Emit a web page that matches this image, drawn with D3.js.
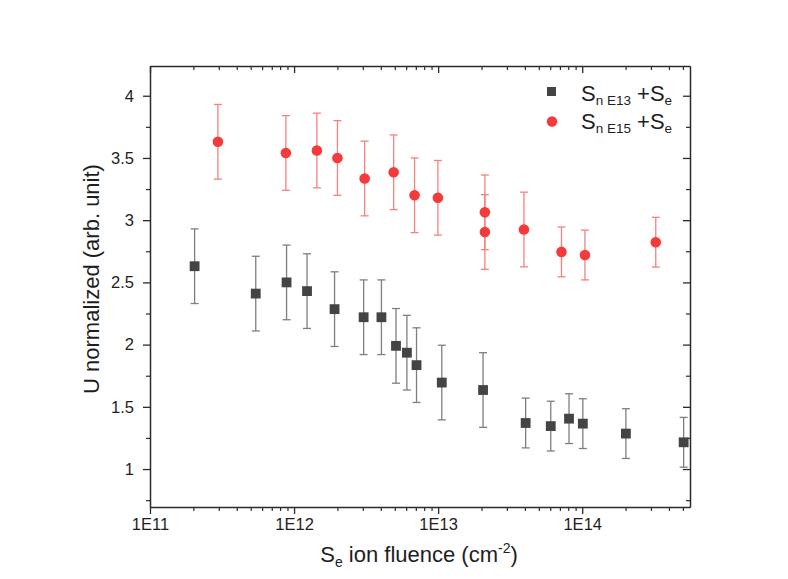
<!DOCTYPE html>
<html>
<head>
<meta charset="utf-8">
<script src="https://cdn.jsdelivr.net/npm/d3@7"></script>
<style>
  html, body { margin: 0; padding: 0; background: #ffffff; }
  svg { display: block; font-family: "Liberation Sans", Arial, sans-serif; }
</style>
</head>
<body>
<svg id="chart" width="788" height="579"></svg>
<script>
// ---------- data ----------
const fluenceE13 = [2.04e11, 5.42e11, 8.87e11, 1.23e12, 1.91e12, 3.04e12, 4.04e12, 5.1e12, 6.07e12, 7.08e12, 1.06e13, 2.05e13, 4.05e13, 6.05e13, 8.1e13, 1.01e14, 2.01e14, 5.06e14];
const uE13       = [2.63, 2.41, 2.50, 2.43, 2.285, 2.22, 2.22, 1.99, 1.935, 1.835, 1.695, 1.635, 1.37, 1.345, 1.405, 1.365, 1.285, 1.215];
const errE13     = [0.3, 0.3, 0.3, 0.3, 0.3, 0.3, 0.3, 0.3, 0.3, 0.3, 0.3, 0.3, 0.2, 0.2, 0.2, 0.2, 0.2, 0.2];

const fluenceE15 = [2.96e11, 8.77e11, 1.44e12, 2.0e12, 3.09e12, 4.91e12, 6.86e12, 9.96e12, 2.11e13, 2.11e13, 3.94e13, 7.18e13, 1.045e14, 3.24e14];
const uE15       = [3.63, 3.54, 3.56, 3.50, 3.335, 3.385, 3.20, 3.18, 3.063, 2.905, 2.925, 2.745, 2.72, 2.823];
const errE15     = [0.3, 0.3, 0.3, 0.3, 0.3, 0.3, 0.3, 0.3, 0.3, 0.3, 0.3, 0.2, 0.2, 0.2];

const xTickValues = [1e11, 1e12, 1e13, 1e14];
const xTickLabels = ["1E11", "1E12", "1E13", "1E14"];
const yTickValues = [1, 1.5, 2, 2.5, 3, 3.5, 4];
const yTickLabels = ["1", "1.5", "2", "2.5", "3", "3.5", "4"];
const xDomain = [1e11, 5.6e14];
const yDomain = [0.695, 4.239];

// ---------- layout ----------
const svg = d3.select("#chart");
const L = 150, R = 690, T = 66, B = 507;
const x = d3.scaleLog().domain(xDomain).range([L, R]);
const y = d3.scaleLinear().domain(yDomain).range([B, T]);

const axisColor = "#2b2b2b";
const textColor = "#1e1e1e";

// minor ticks
const xMinor = [];
for (let e = 11; e <= 14; e++) for (let m = 2; m <= 9; m++) { const v = m * Math.pow(10, e); if (v <= xDomain[1]) xMinor.push(v); }
const yMinor = [];
for (let v = 0.75; v < 4.24; v += 0.5) yMinor.push(+v.toFixed(2));

function styleAxis(g) {
  g.selectAll("path.domain").attr("stroke", axisColor).attr("stroke-width", 1.5);
  g.selectAll(".tick line").attr("stroke", axisColor).attr("stroke-width", 1.3);
  g.selectAll(".tick text").attr("fill", textColor).attr("font-size", 16.5).attr("font-family", "Liberation Sans, Arial, sans-serif");
}

// bottom axis (outward ticks, labelled)
const gx = svg.append("g").attr("transform", `translate(0,${B})`)
  .call(d3.axisBottom(x).tickValues(xTickValues).tickFormat((d, i) => xTickLabels[i]).tickSize(7).tickSizeOuter(0).tickPadding(4));
styleAxis(gx);
svg.append("g").attr("transform", `translate(0,${B})`)
  .call(d3.axisBottom(x).tickValues(xMinor).tickFormat("").tickSize(4).tickSizeOuter(0))
  .call(g => { g.select("path.domain").remove(); g.selectAll(".tick line").attr("stroke", axisColor).attr("stroke-width", 1.2); });

// top axis (inward ticks)
const gt = svg.append("g").attr("transform", `translate(0,${T})`)
  .call(d3.axisBottom(x).tickValues(xTickValues).tickFormat("").tickSize(7).tickSizeOuter(0));
styleAxis(gt);
svg.append("g").attr("transform", `translate(0,${T})`)
  .call(d3.axisBottom(x).tickValues(xMinor).tickFormat("").tickSize(4).tickSizeOuter(0))
  .call(g => { g.select("path.domain").remove(); g.selectAll(".tick line").attr("stroke", axisColor).attr("stroke-width", 1.2); });

// left axis (outward ticks, labelled)
const gy = svg.append("g").attr("transform", `translate(${L},0)`)
  .call(d3.axisLeft(y).tickValues(yTickValues).tickFormat((d, i) => yTickLabels[i]).tickSize(7).tickSizeOuter(0).tickPadding(9));
styleAxis(gy);
svg.append("g").attr("transform", `translate(${L},0)`)
  .call(d3.axisLeft(y).tickValues(yMinor).tickFormat("").tickSize(4).tickSizeOuter(0))
  .call(g => { g.select("path.domain").remove(); g.selectAll(".tick line").attr("stroke", axisColor).attr("stroke-width", 1.2); });

// right axis (inward ticks)
const gr = svg.append("g").attr("transform", `translate(${R},0)`)
  .call(d3.axisLeft(y).tickValues(yTickValues).tickFormat("").tickSize(7).tickSizeOuter(0));
styleAxis(gr);
svg.append("g").attr("transform", `translate(${R},0)`)
  .call(d3.axisLeft(y).tickValues(yMinor).tickFormat("").tickSize(4).tickSizeOuter(0))
  .call(g => { g.select("path.domain").remove(); g.selectAll(".tick line").attr("stroke", axisColor).attr("stroke-width", 1.2); });

// ---------- series ----------
const series = [
  { xs: fluenceE13, ys: uE13, es: errE13, color: "#444444", err: "#7f7f7f", shape: "square" },
  { xs: fluenceE15, ys: uE15, es: errE15, color: "#f43a3a", err: "#f58080", shape: "circle" }
];
const capW = 8;
series.forEach(s => {
  const data = s.xs.map((xv, i) => ({ x: xv, y: s.ys[i], e: s.es[i] }));
  const eg = svg.append("g");
  data.forEach(d => {
    const cx = x(d.x), y1 = y(d.y + d.e), y2 = y(d.y - d.e);
    eg.append("line").attr("x1", cx).attr("x2", cx).attr("y1", y1).attr("y2", y2)
      .attr("stroke", s.err).attr("stroke-width", 1.3);
    [y1, y2].forEach(yy => eg.append("line").attr("x1", cx - capW / 2).attr("x2", cx + capW / 2)
      .attr("y1", yy).attr("y2", yy).attr("stroke", s.err).attr("stroke-width", 1.3));
  });
  const mg = svg.append("g");
  if (s.shape === "square") {
    mg.selectAll("rect").data(data).join("rect")
      .attr("x", d => x(d.x) - 4.9).attr("y", d => y(d.y) - 4.9)
      .attr("width", 9.8).attr("height", 9.8).attr("fill", s.color);
  } else {
    mg.selectAll("circle").data(data).join("circle")
      .attr("cx", d => x(d.x)).attr("cy", d => y(d.y)).attr("r", 5.3).attr("fill", s.color);
  }
});

// ---------- legend ----------
const lg = svg.append("g");
lg.append("rect").attr("x", 547).attr("y", 87).attr("width", 9).attr("height", 9).attr("fill", series[0].color);
lg.append("circle").attr("cx", 552).attr("cy", 121.5).attr("r", 5.2).attr("fill", series[1].color);
const legendLabels = [["n E13", 101], ["n E15", 128.5]];
legendLabels.forEach(([sub, by]) => {
  const t = lg.append("text").attr("x", 581).attr("y", by).attr("fill", textColor).attr("font-size", 22);
  t.append("tspan").text("S");
  t.append("tspan").attr("font-size", 13.5).attr("dy", 4).text(sub);
  t.append("tspan").attr("dy", -4).text(" +S");
  t.append("tspan").attr("font-size", 13.5).attr("dy", 4).text("e");
});

// ---------- axis titles ----------
const xt = svg.append("text").attr("x", 419).attr("y", 562).attr("text-anchor", "middle")
  .attr("fill", textColor).attr("font-size", 22);
xt.append("tspan").text("S");
xt.append("tspan").attr("font-size", 14).attr("dy", 5).text("e");
xt.append("tspan").attr("dy", -5).text(" ion fluence (cm");
xt.append("tspan").attr("font-size", 14).attr("dy", -9).text("-2");
xt.append("tspan").attr("dy", 9).text(")");

svg.append("text").attr("transform", "translate(99,279) rotate(-90)").attr("text-anchor", "middle")
  .attr("fill", textColor).attr("font-size", 22).text("U normalized (arb. unit)");
</script>
</body>
</html>
